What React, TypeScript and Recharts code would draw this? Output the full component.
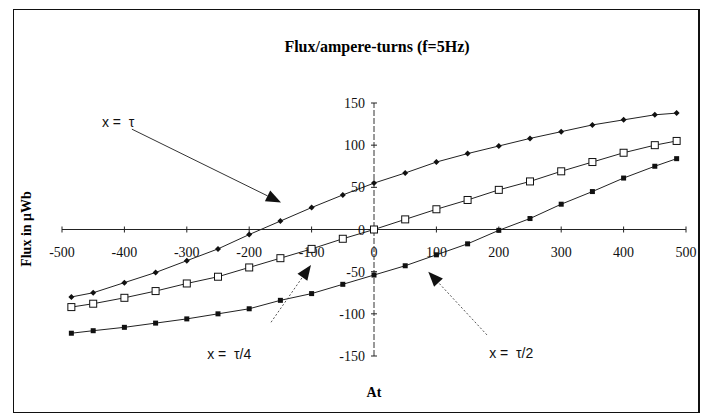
import { LineChart, Line, XAxis, YAxis, ReferenceLine, ReferenceDot } from "recharts"

// ampere-turns (x axis) and flux in uWb for the three positions
const ampereTurns = [-485, -450, -400, -350, -300, -250, -200, -150, -100, -50, 0, 50, 100, 150, 200, 250, 300, 350, 400, 450, 485]
const fluxTau = [-80, -75, -63, -51, -37, -23, -6, 10, 26, 41, 55, 67, 80, 90, 99, 108, 116, 124, 130, 136, 138]
const fluxQuarterTau = [-92, -88, -81, -73, -64, -56, -45, -34, -23, -11, 0, 12, 24, 35, 47, 57, 69, 80, 91, 100, 105]
const fluxHalfTau = [-123, -120, -116, -111, -106, -100, -94, -84, -76, -65, -54, -43, -30, -17, -1, 13, 30, 45, 61, 75, 84]

const xTicks = [-500, -400, -300, -200, -100, 0, 100, 200, 300, 400, 500]
const yTicks = [-150, -100, -50, 0, 50, 100, 150]

// annotation labels and arrows, in data units
const notes = [
  { text: "x =\u00a0\u00a0τ", x: -410, y: 127 },
  { text: "x =\u00a0\u00a0τ/4", x: -232, y: -148 },
  { text: "x =\u00a0\u00a0τ/2", x: 220, y: -147 },
]
const arrows = [
  { from: [-388, 119], to: [-149, 32], dashed: false },
  { from: [-165, -110], to: [-101, -42], dashed: true },
  { from: [181, -125], to: [87, -50], dashed: true },
]

const data = ampereTurns.map((at, i) => ({
  at,
  tau: fluxTau[i],
  quarter: fluxQuarterTau[i],
  half: fluxHalfTau[i],
}))

const serif = "'Liberation Serif', 'Times New Roman', serif"
const sans = "'Liberation Sans', Arial, sans-serif"

const Diamond = (p: any) => (
  <polygon
    key={p.key}
    points={`${p.cx},${p.cy - 3} ${p.cx + 3},${p.cy} ${p.cx},${p.cy + 3} ${p.cx - 3},${p.cy}`}
    fill="#111"
  />
)
const OpenSquare = (p: any) => (
  <rect key={p.key} x={p.cx - 3.5} y={p.cy - 3.5} width={7} height={7} fill="#fff" stroke="#111" strokeWidth={1} />
)
const FilledSquare = (p: any) => (
  <rect key={p.key} x={p.cx - 2.5} y={p.cy - 2.5} width={5} height={5} fill="#111" />
)

const arrowShape = (dashed: boolean) => (p: any) => {
  const { x1, y1, x2, y2 } = p
  const dx = x2 - x1
  const dy = y2 - y1
  const len = Math.sqrt(dx * dx + dy * dy) || 1
  const ux = dx / len
  const uy = dy / len
  const bx = x2 - ux * 15
  const by = y2 - uy * 15
  const w = 6
  return (
    <g>
      <line x1={x1} y1={y1} x2={bx} y2={by} stroke={dashed ? "#555" : "#333"} strokeWidth={1} strokeDasharray={dashed ? "2 2" : undefined} />
      <polygon points={`${x2},${y2} ${bx - uy * w},${by + ux * w} ${bx + uy * w},${by - ux * w}`} fill="#111" />
    </g>
  )
}

export default function App() {
  return (
    <div style={{ position: "fixed", left: 0, top: 0, width: 707, height: 420, background: "#fff" }}>
      <div
        style={{
          position: "absolute",
          left: 13,
          top: 9,
          width: 684,
          height: 402,
          border: "1px solid #111",
          borderRightWidth: 2,
        }}
      />
      <div
        style={{
          position: "absolute",
          left: 0,
          width: 754,
          top: 38,
          textAlign: "center",
          fontFamily: serif,
          fontWeight: "bold",
          fontSize: 16,
        }}
      >
        Flux/ampere-turns (f=5Hz)
      </div>
      <div
        style={{
          position: "absolute",
          left: 27,
          top: 229,
          transform: "translate(-50%, -50%) rotate(-90deg)",
          whiteSpace: "nowrap",
          fontFamily: serif,
          fontWeight: "bold",
          fontSize: 14,
        }}
      >
        Flux in μWb
      </div>
      <div
        style={{
          position: "absolute",
          left: 374,
          top: 393,
          transform: "translate(-50%, -50%)",
          fontFamily: serif,
          fontWeight: "bold",
          fontSize: 14,
        }}
      >
        At
      </div>
      <div style={{ position: "absolute", left: 0, top: 0 }}>
        <LineChart width={707} height={420} data={data} margin={{ top: 103, right: 21, bottom: 64, left: 62 }}>
          <XAxis dataKey="at" type="number" domain={[-500, 500]} hide />
          <YAxis type="number" domain={[-150, 150]} hide />
          <ReferenceLine y={0} stroke="#222" strokeWidth={1} ifOverflow="visible" />
          <ReferenceLine x={0} stroke="#333" strokeWidth={1} strokeDasharray="6 2" ifOverflow="visible" />
          {xTicks.map((v) => (
            <ReferenceDot
              key={"x" + v}
              x={v}
              y={0}
              r={0}
              ifOverflow="visible"
              shape={(p: any) => (
                <g>
                  <line x1={p.cx} y1={p.cy - 3} x2={p.cx} y2={p.cy + 3} stroke="#222" />
                  <text x={p.cx} y={p.cy + 27} textAnchor="middle" fontFamily={serif} fontSize={14} fill="#111">
                    {v}
                  </text>
                </g>
              )}
            />
          ))}
          {yTicks.map((v) => (
            <ReferenceDot
              key={"y" + v}
              x={0}
              y={v}
              r={0}
              ifOverflow="visible"
              shape={(p: any) => (
                <g>
                  <line x1={p.cx - 3} y1={p.cy} x2={p.cx + 3} y2={p.cy} stroke="#222" />
                  <text x={p.cx - 9} y={p.cy + 5} textAnchor="end" fontFamily={serif} fontSize={14} fill="#111">
                    {v}
                  </text>
                </g>
              )}
            />
          ))}
          <Line type="linear" dataKey="tau" stroke="#222" strokeWidth={1} dot={Diamond} isAnimationActive={false} />
          <Line type="linear" dataKey="quarter" stroke="#222" strokeWidth={1} dot={OpenSquare} isAnimationActive={false} />
          <Line type="linear" dataKey="half" stroke="#222" strokeWidth={1} dot={FilledSquare} isAnimationActive={false} />
          {arrows.map((a, i) => (
            <ReferenceLine
              key={"a" + i}
              segment={[
                { x: a.from[0], y: a.from[1] },
                { x: a.to[0], y: a.to[1] },
              ]}
              ifOverflow="visible"
              shape={arrowShape(a.dashed)}
            />
          ))}
          {notes.map((n) => (
            <ReferenceDot
              key={n.text}
              x={n.x}
              y={n.y}
              r={0}
              ifOverflow="visible"
              shape={(p: any) => (
                <text x={p.cx} y={p.cy + 5} textAnchor="middle" fontFamily={sans} fontSize={14} fill="#111">
                  {n.text}
                </text>
              )}
            />
          ))}
        </LineChart>
      </div>
    </div>
  )
}
